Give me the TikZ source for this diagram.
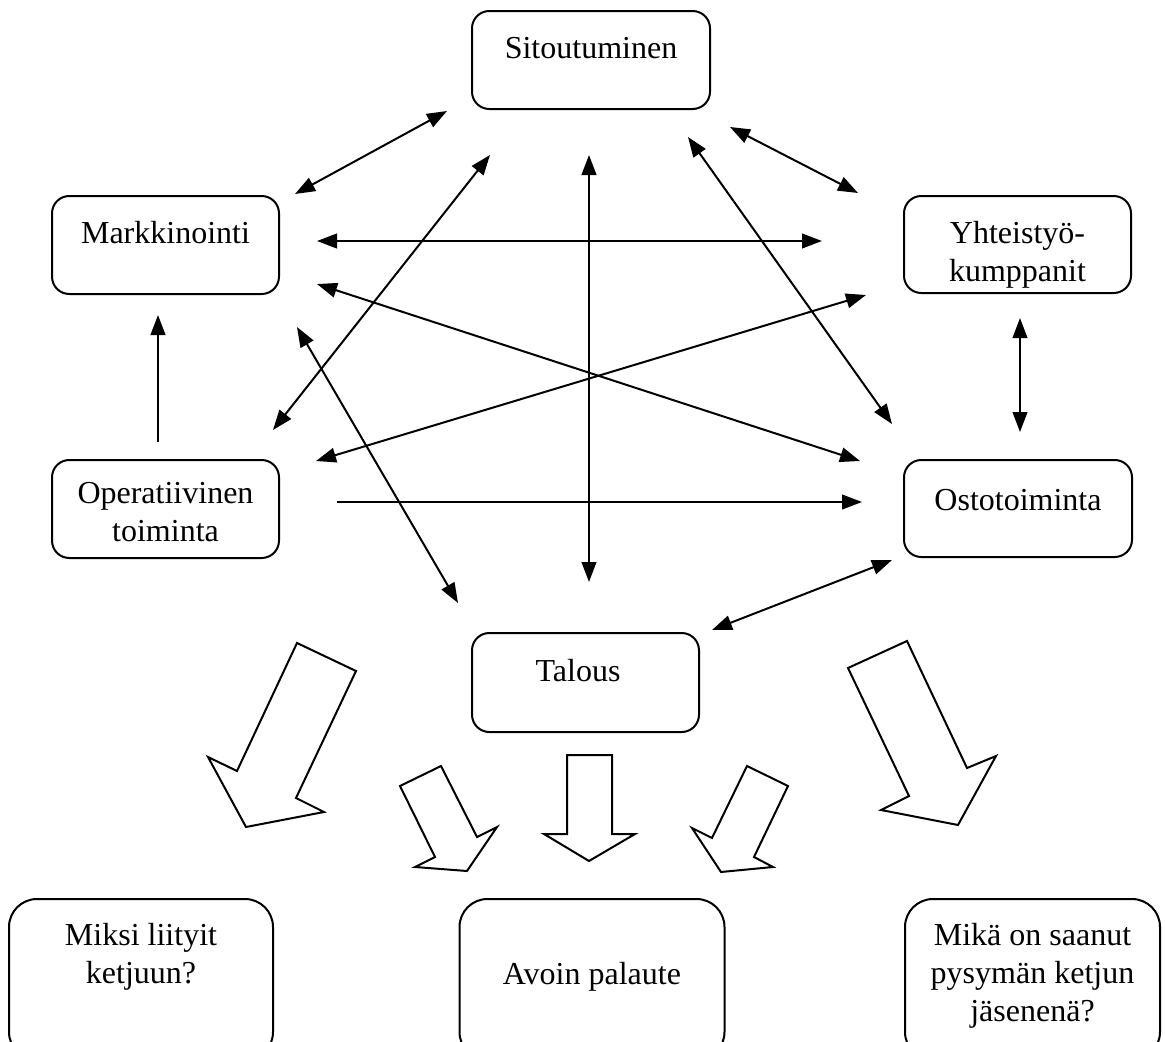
\documentclass[tikz,border=0pt]{standalone}
\usepackage{fontspec}
\setmainfont{Liberation Serif}
\usetikzlibrary{arrows.meta}
\begin{document}
\begin{tikzpicture}[x=0.75pt,y=-0.75pt,
  box/.style={draw=black, line width=1.5pt, rounded corners=13pt, inner sep=0pt, outer sep=0pt},
  bigbox/.style={box, rounded corners=21pt},
  txt/.style={font=\fontsize{24}{28.5}\selectfont, align=center, inner sep=0pt, anchor=base},
  both/.style={line width=1.5pt, {Triangle[length=15pt,width=11pt]}-{Triangle[length=15pt,width=11pt]}},
  one/.style={line width=1.5pt, -{Triangle[length=15pt,width=11pt]}},
  hollow/.style={draw=black, fill=white, line width=1.5pt, line join=miter}]
\useasboundingbox (0,0) rectangle (1165,1042);
\clip (0,0) rectangle (1165,1042);

% boxes
\node[box, minimum width=178.5pt, minimum height=73.5pt] (sit) at (591,60) {};
\node[box, minimum width=170.25pt, minimum height=73.5pt] (mark) at (165.5,245) {};
\node[box, minimum width=170.25pt, minimum height=72.75pt] (yht) at (1017.5,244.5) {};
\node[box, minimum width=170.25pt, minimum height=73.5pt] (oper) at (165.5,509) {};
\node[box, minimum width=171pt, minimum height=72.75pt] (osto) at (1018,508.5) {};
\node[box, minimum width=170.25pt, minimum height=74.25pt] (tal) at (585.5,682.5) {};
\node[bigbox, minimum width=198pt, minimum height=120.75pt] (miksi) at (141,979.5) {};
\node[bigbox, minimum width=198.75pt, minimum height=120.75pt] (avoin) at (592,979.5) {};
\node[bigbox, minimum width=191.25pt, minimum height=120.75pt] (mika) at (1032.5,979.5) {};

% box texts (base = baseline of the last line)
\node[txt] (sitT) at (591,58) {Sitoutuminen};
\node[txt] (markT) at (165.5,243) {Markkinointi};
\node[txt] (yhtT) at (1017.5,281) {Yhteistyö-\\kumppanit};
\node[txt] (operT) at (165.5,541) {Operatiivinen\\toiminta};
\node[txt] (ostoT) at (1018,510) {Ostotoiminta};
\node[txt] (talT) at (578,681) {Talous};
\node[txt] (miksiT) at (141,983) {Miksi liityit\\ketjuun?};
\node[txt] (avoinT) at (592,984) {Avoin palaute};
\node[txt] (mikaT) at (1032.5,1021) {Mikä on saanut\\pysymän ketjun\\jäsenenä?};

% connector end points
\coordinate (sm1) at (447,111);  \coordinate (sm2) at (295,194);
\coordinate (sy1) at (730,127);  \coordinate (sy2) at (858,193);
\coordinate (my1) at (317,241);  \coordinate (my2) at (822,241);
\coordinate (mo1) at (317,284);  \coordinate (mo2) at (860,461);
\coordinate (yo1) at (866,295);  \coordinate (yo2) at (316,461);
\coordinate (so1) at (490,155);  \coordinate (so2) at (273,430);
\coordinate (st1) at (589,155);  \coordinate (st2) at (589,582);
\coordinate (sx1) at (688,137);  \coordinate (sx2) at (892,424);
\coordinate (mt1) at (297,327);  \coordinate (mt2) at (458,603);
\coordinate (yx1) at (1020,318); \coordinate (yx2) at (1020,432);
\coordinate (om1) at (158,442);  \coordinate (om2) at (158,315);
\coordinate (ox1) at (337,502);  \coordinate (ox2) at (862,502);
\coordinate (xt1) at (892,560);  \coordinate (xt2) at (712,630);

% connectors
\draw[both] (sm1) -- (sm2);
\draw[both] (sy1) -- (sy2);
\draw[both] (my1) -- (my2);
\draw[both] (mo1) -- (mo2);
\draw[both] (yo1) -- (yo2);
\draw[both] (so1) -- (so2);
\draw[both] (st1) -- (st2);
\draw[both] (sx1) -- (sx2);
\draw[both] (mt1) -- (mt2);
\draw[both] (yx1) -- (yx2);
\draw[both] (xt1) -- (xt2);
\draw[one] (om1) -- (om2);
\draw[one] (ox1) -- (ox2);

% hollow block arrows
\draw[hollow] (297,643) -- (356,671) -- (296,798) -- (324,812) -- (246,827) -- (208,757) -- (237,771) -- cycle;
\draw[hollow] (907,641) -- (848,668) -- (909,796) -- (881,810) -- (958,825) -- (996,756) -- (967,768) -- cycle;
\draw[hollow] (400,786) -- (441,766) -- (477,837) -- (497,827) -- (467,871) -- (415,867) -- (435,857) -- cycle;
\draw[hollow] (567,755) -- (612,755) -- (612,834) -- (635,834) -- (589,861) -- (544,834) -- (567,834) -- cycle;
\draw[hollow] (788,786) -- (747,766) -- (712,838) -- (692,828) -- (721,872) -- (773,867) -- (754,857) -- cycle;
\end{tikzpicture}
\end{document}
